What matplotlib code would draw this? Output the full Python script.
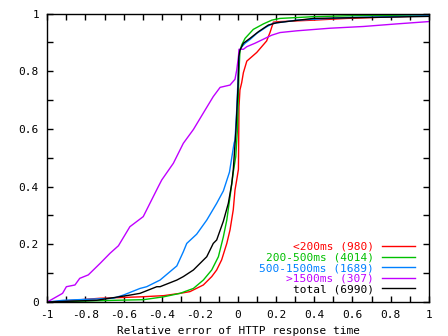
import matplotlib
matplotlib.use("Agg")
import matplotlib.pyplot as plt

# CDF of relative error
red_x = [-1, -0.863, -0.723, -0.505, -0.39, -0.304, -0.252, -0.182, -0.138, -0.112, -0.086,
         -0.059, -0.042, -0.025, -0.016, -0.007, 0.002, 0.005, 0.01, 0.019, 0.028, 0.046,
         0.098, 0.124, 0.15, 0.168, 0.185, 0.22, 0.395, 0.57, 0.8, 1.0]
red_y = [0, 0.006, 0.013, 0.018, 0.022, 0.030, 0.036, 0.059, 0.088, 0.111, 0.146,
         0.203, 0.25, 0.32, 0.388, 0.423, 0.46, 0.677, 0.735, 0.76, 0.795, 0.835,
         0.865, 0.885, 0.905, 0.935, 0.97, 0.972, 0.977, 0.983, 0.988, 0.992]

green_x = [-1, -0.636, -0.496, -0.39, -0.304, -0.234, -0.182, -0.138, -0.103, -0.077, -0.059,
           -0.042, -0.025, -0.012, -0.003, 0.005, 0.01, 0.019, 0.037, 0.08, 0.133, 0.177,
           0.22, 0.395, 0.57, 1.0]
green_y = [0, 0.006, 0.008, 0.018, 0.030, 0.047, 0.076, 0.111, 0.157, 0.226, 0.284,
           0.365, 0.45, 0.504, 0.6, 0.8, 0.87, 0.891, 0.914, 0.945, 0.964, 0.977,
           0.983, 0.989, 0.992, 0.995]

blue_x = [-1, -0.916, -0.654, -0.601, -0.514, -0.479, -0.409, -0.321, -0.287, -0.269, -0.217,
          -0.164, -0.112, -0.077, -0.045, -0.021, -0.016, -0.007, 0.002, 0.007, 0.02, 0.037,
          0.063, 0.098, 0.15, 0.185, 0.308, 0.57, 0.8, 1.0]
blue_y = [0, 0.006, 0.013, 0.024, 0.047, 0.053, 0.076, 0.125, 0.174, 0.203, 0.235,
          0.284, 0.342, 0.385, 0.45, 0.55, 0.561, 0.665, 0.804, 0.87, 0.885, 0.897,
          0.91, 0.931, 0.954, 0.966, 0.977, 0.986, 0.989, 0.992]

purple_x = [-1, -0.92, -0.90, -0.855, -0.83, -0.785, -0.723, -0.671, -0.627, -0.567, -0.497,
            -0.418, -0.40, -0.339, -0.287, -0.234, -0.173, -0.13, -0.094, -0.042, -0.016,
            -0.007, 0.002, 0.005, 0.028, 0.046, 0.089, 0.133, 0.177, 0.22, 0.308, 0.482,
            0.657, 0.832, 1.0]
purple_y = [0, 0.03, 0.053, 0.059, 0.082, 0.094, 0.134, 0.169, 0.195, 0.261, 0.296,
            0.40, 0.423, 0.481, 0.55, 0.598, 0.665, 0.712, 0.744, 0.752, 0.772,
            0.804, 0.85, 0.876, 0.876, 0.885, 0.897, 0.911, 0.925, 0.934, 0.94, 0.949,
            0.955, 0.964, 0.972]

total_x = [-1, -0.741, -0.566, -0.514, -0.426, -0.409, -0.321, -0.287, -0.234, -0.199, -0.164,
           -0.13, -0.112, -0.077, -0.051, -0.033, -0.025, -0.011, 0.0, 0.004, 0.01, 0.028,
           0.063, 0.107, 0.159, 0.203, 0.395, 0.657, 1.0]
total_y = [0, 0.006, 0.024, 0.03, 0.053, 0.053, 0.076, 0.088, 0.111, 0.134, 0.157,
           0.203, 0.215, 0.28, 0.342, 0.41, 0.458, 0.596, 0.75, 0.85, 0.873, 0.897,
           0.914, 0.937, 0.96, 0.968, 0.983, 0.986, 0.99]

labels = ['<200ms (980)', '200-500ms (4014)', '500-1500ms (1689)', '>1500ms (307)', 'total (6990)']
colors = ['#ff0000', '#00c000', '#0080ff', '#c000ff', '#000000']

xtick_vals = [-1, -0.8, -0.6, -0.4, -0.2, 0, 0.2, 0.4, 0.6, 0.8, 1]
xtick_labels = ['-1', '-0.8', '-0.6', '-0.4', '-0.2', '0', '0.2', '0.4', '0.6', '0.8', '1']
ytick_vals = [0, 0.2, 0.4, 0.6, 0.8, 1]
ytick_labels = ['0', '0.2', '0.4', '0.6', '0.8', '1']

plt.rcParams['font.family'] = ['DejaVu Sans Mono']
plt.rcParams['font.size'] = 8

fig = plt.figure(figsize=(4.48, 3.36), dpi=100)
ax = fig.add_axes([0.1056, 0.1012, 0.8515, 0.8586])

series = [(red_x, red_y), (green_x, green_y), (blue_x, blue_y), (purple_x, purple_y), (total_x, total_y)]
for (xs, ys), lab, c in zip(series, labels, colors):
    ax.plot(xs, ys, color=c, lw=1, label=lab)

ax.set_xlim(-1, 1)
ax.set_ylim(0, 1)
ax.set_xticks(xtick_vals)
ax.set_xticklabels(xtick_labels)
ax.set_yticks(ytick_vals)
ax.set_yticklabels(ytick_labels)
ax.set_xticks([v / 10 for v in range(-9, 10, 2)], minor=True)
ax.set_yticks([0.1, 0.3, 0.5, 0.7, 0.9], minor=True)
ax.tick_params(which='both', direction='in', length=4, width=1, top=True, right=True, pad=6)
for s in ax.spines.values():
    s.set_linewidth(1)

ax.set_xlabel('Relative error of HTTP response time', labelpad=4)

leg = ax.legend(loc='lower right', frameon=False, markerfirst=False, labelcolor='linecolor',
                handlelength=3.0, handletextpad=0.7, labelspacing=0.05,
                borderaxespad=0.3, bbox_to_anchor=(0.985, 0.0))

plt.savefig('out.png', dpi=100)
